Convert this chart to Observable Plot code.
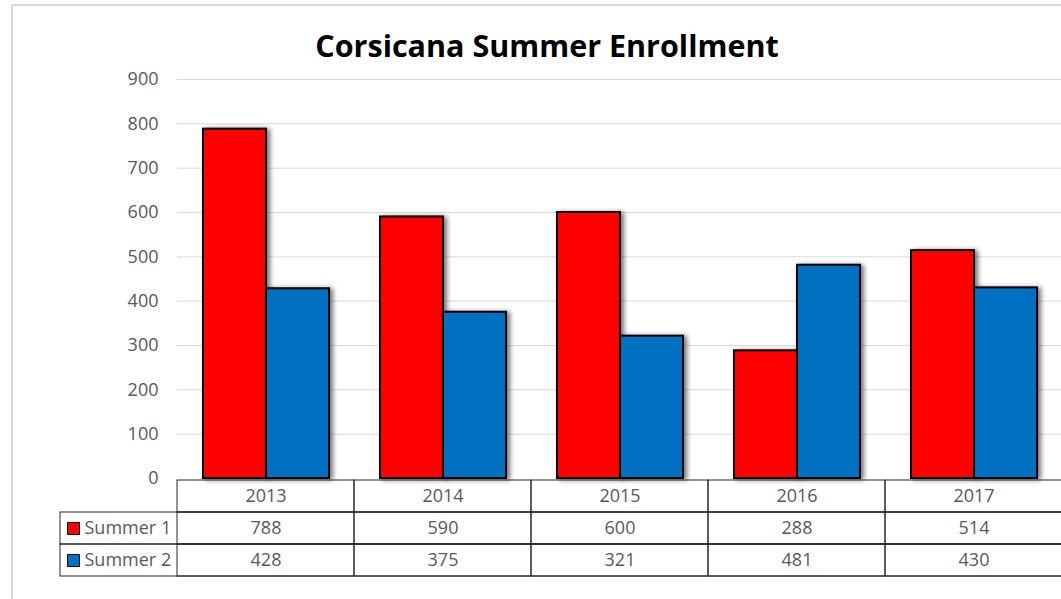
<!DOCTYPE html>
<html><head><meta charset="utf-8">
<script src="https://cdn.jsdelivr.net/npm/d3@7"></script>
<script src="https://cdn.jsdelivr.net/npm/@observablehq/plot@0.6"></script>
<style>
html,body{margin:0;padding:0;background:#fff;overflow:hidden;width:1061px;height:599px;}
#frame{position:absolute;left:11px;top:4px;width:1200px;height:700px;border-left:2px solid #d9d9d9;border-top:2px solid #d9d9d9;box-sizing:border-box;}
#title{position:absolute;left:547px;top:30px;transform:translateX(-50%);font-weight:bold;font-size:30.5px;font-family:"Open Sans",sans-serif;white-space:nowrap;color:#000;line-height:1;}
#chart{position:absolute;left:0;top:0;width:1070px;}
#table{position:absolute;left:0;top:478px;width:1070px;}
svg{max-width:none !important;}
</style></head>
<body>
<svg width="0" height="0" style="position:absolute"><defs><filter id="shadow" x="-20%" y="-10%" width="150%" height="130%"><feDropShadow dx="3" dy="1" stdDeviation="2.5" flood-color="#000" flood-opacity="0.55"/></filter></defs></svg>
<div id="frame"></div>
<div id="title">Corsicana Summer Enrollment</div>
<div id="chart"></div>
<div id="table"></div>
<script>
const years = ["2013", "2014", "2015", "2016", "2017"];
const seriesNames = ["Summer 1", "Summer 2"];
const summer1 = [788, 590, 600, 288, 514];
const summer2 = [428, 375, 321, 481, 430];
const seriesColors = ["#ff0000", "#0070c0"];
const yTicks = [0, 100, 200, 300, 400, 500, 600, 700, 800, 900];

const FONT = '"Open Sans", sans-serif';
const W = 1070;

const barData = years.flatMap((yr, i) => [
  {year: yr, series: seriesNames[0], value: summer1[i]},
  {year: yr, series: seriesNames[1], value: summer2[i]}
]);

const baseStyle = {fontFamily: FONT, fontSize: "18px", color: "#595959", background: "transparent", overflow: "visible", maxWidth: "none"};

const chart = Plot.plot({
  width: W, height: 480, marginTop: 79, marginBottom: 2, marginLeft: 176, marginRight: 7,
  style: baseStyle,
  fx: {domain: years, padding: 0, axis: null, label: null},
  x: {domain: seriesNames, paddingInner: 0, paddingOuter: 0.394, axis: null},
  y: {domain: [0, 900], label: null},
  color: {domain: seriesNames, range: seriesColors},
  marks: [
    Plot.gridY(yTicks.filter(t => t > 0), {stroke: "#d9d9d9", strokeOpacity: 1, strokeWidth: 1}),
    Plot.axisY(yTicks, {tickSize: 0, tickPadding: 19, label: null}),
    Plot.barY(barData, {fx: "year", x: "series", y: "value", fill: "series", stroke: "#000", strokeWidth: 2})
  ]
});
d3.select(chart).selectAll('g[aria-label="bar"] rect').attr("filter", "url(#shadow)");
document.getElementById("chart").appendChild(chart);

const rowKeys = ["year", ...seriesNames];
const cells = [];
years.forEach((yr, i) => {
  cells.push({col: yr, row: "year", text: yr});
  cells.push({col: yr, row: seriesNames[0], text: String(summer1[i])});
  cells.push({col: yr, row: seriesNames[1], text: String(summer2[i])});
});

const table = Plot.plot({
  width: W, height: 101, marginTop: 1, marginBottom: 2, marginLeft: 176, marginRight: 7,
  style: baseStyle,
  x: {domain: years, padding: 0, axis: null},
  y: {domain: rowKeys, padding: 0, axis: null},
  color: {domain: seriesNames, range: seriesColors},
  marks: [
    Plot.cell(seriesNames, {y: d => d, insetLeft: -116, insetRight: 0, insetTop: 0, insetBottom: 0, fill: "none", stroke: "#262626", strokeWidth: 1}),
    Plot.cell(cells, {x: "col", y: "row", inset: 0, fill: "none", stroke: "#262626", strokeWidth: 1}),
    Plot.text(cells, {x: "col", y: "row", text: "text", fill: "#595959"}),
    Plot.dot(seriesNames, {y: d => d, frameAnchor: "left", dx: -103, symbol: "square", r: 6.8, fill: d => d, stroke: "#000", strokeWidth: 1}),
    Plot.text(seriesNames, {y: d => d, frameAnchor: "left", dx: -92, textAnchor: "start", text: d => d, fill: "#595959"})
  ]
});
document.getElementById("table").appendChild(table);
</script>
</body></html>
